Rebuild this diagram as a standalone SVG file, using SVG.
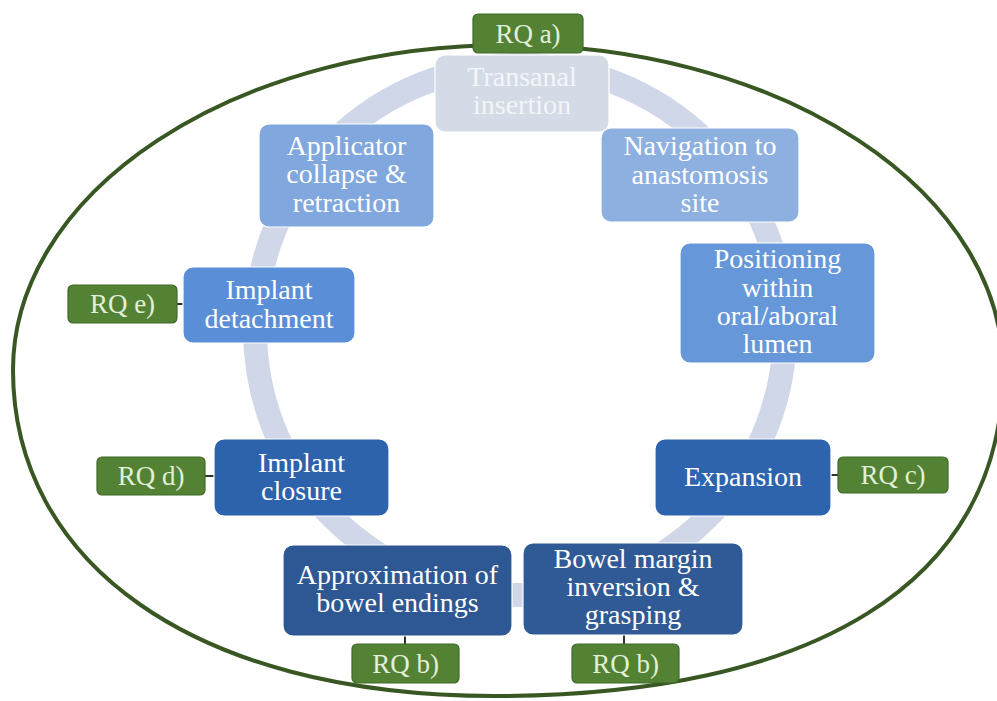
<svg xmlns="http://www.w3.org/2000/svg" width="997" height="701" viewBox="0 0 997 701">
<defs>
<style>
.node rect{stroke:#ffffff;stroke-width:1.2}
.node text{font-family:"Liberation Serif","Times New Roman",serif;font-size:28px;fill:#ffffff;text-anchor:middle}
.rq rect{fill:#548235;stroke:#3e6a28;stroke-width:1.2}
.rq text{font-family:"Liberation Serif","Times New Roman",serif;font-size:27px;fill:#e2efd9;text-anchor:middle}
.conn line{stroke:#2a3a20;stroke-width:2}
</style>
</defs>
<rect x="0" y="0" width="997" height="701" fill="#ffffff"/>
<path id="outer" d="M 13 370 A 495 325 0 0 1 1003 370 C 1003 585 810 696 495 696 C 190 696 13 560 13 370 Z" fill="none" stroke="#385723" stroke-width="4"/>
<circle id="ring" cx="520" cy="330" r="265" fill="none" stroke="#cfd7e8" stroke-width="24"/>
<g id="connectors" class="conn">
<line x1="177" y1="304" x2="183" y2="304"/>
<line x1="205" y1="476" x2="214" y2="476"/>
<line x1="831" y1="475" x2="838" y2="475"/>
<line x1="405" y1="636" x2="405" y2="644"/>
<line x1="624" y1="635" x2="624" y2="644"/>
</g>
<g id="n-transanal" class="node"><rect x="435" y="55" width="174" height="77" rx="10" fill="#d5dbe6"/><text x="522" style="fill:#f3f5f9"><tspan x="522" y="86">Transanal</tspan><tspan x="522" y="114">insertion</tspan></text></g>
<g id="n-navigation" class="node"><rect x="601" y="128" width="198" height="94" rx="10" fill="#8db0e1"/><text><tspan x="700" y="155">Navigation to</tspan><tspan x="700" y="184">anastomosis</tspan><tspan x="700" y="212">site</tspan></text></g>
<g id="n-positioning" class="node"><rect x="680" y="243" width="195" height="120" rx="10" fill="#6698d9"/><text><tspan x="777.5" y="268">Positioning</tspan><tspan x="777.5" y="297">within</tspan><tspan x="777.5" y="325">oral/aboral</tspan><tspan x="777.5" y="353">lumen</tspan></text></g>
<g id="n-expansion" class="node"><rect x="655" y="439" width="176" height="77" rx="10" fill="#2e63ae"/><text x="743" y="486">Expansion</text></g>
<g id="n-bowel" class="node"><rect x="523" y="543" width="220" height="92" rx="10" fill="#2f5a95"/><text><tspan x="633" y="568">Bowel margin</tspan><tspan x="633" y="596">inversion &amp;</tspan><tspan x="633" y="624">grasping</tspan></text></g>
<g id="n-approximation" class="node"><rect x="283" y="545" width="229" height="91" rx="10" fill="#2e5893"/><text><tspan x="397.5" y="584">Approximation of</tspan><tspan x="397.5" y="612">bowel endings</tspan></text></g>
<g id="n-closure" class="node"><rect x="214" y="439" width="175" height="77" rx="10" fill="#2d62ad"/><text><tspan x="301.5" y="472">Implant</tspan><tspan x="301.5" y="500">closure</tspan></text></g>
<g id="n-detachment" class="node"><rect x="183" y="267" width="172" height="76" rx="10" fill="#5a8ed6"/><text><tspan x="269" y="299">Implant</tspan><tspan x="269" y="328">detachment</tspan></text></g>
<g id="n-applicator" class="node"><rect x="259" y="124" width="175" height="103" rx="10" fill="#80a7de"/><text><tspan x="346.5" y="155">Applicator</tspan><tspan x="346.5" y="183">collapse &amp;</tspan><tspan x="346.5" y="212">retraction</tspan></text></g>
<g id="rq-a" class="rq"><rect x="473" y="14" width="110" height="39" rx="5"/><text x="528" y="43">RQ a)</text></g>
<g id="rq-e" class="rq"><rect x="68" y="285" width="109" height="38" rx="5"/><text x="122.5" y="313">RQ e)</text></g>
<g id="rq-d" class="rq"><rect x="97" y="457" width="108" height="38" rx="5"/><text x="151" y="485">RQ d)</text></g>
<g id="rq-c" class="rq"><rect x="838" y="457" width="110" height="36" rx="5"/><text x="893" y="484">RQ c)</text></g>
<g id="rq-b1" class="rq"><rect x="352" y="644" width="107" height="39" rx="5"/><text x="405.5" y="673">RQ b)</text></g>
<g id="rq-b2" class="rq"><rect x="572" y="644" width="107" height="39" rx="5"/><text x="625.5" y="673">RQ b)</text></g>
</svg>
